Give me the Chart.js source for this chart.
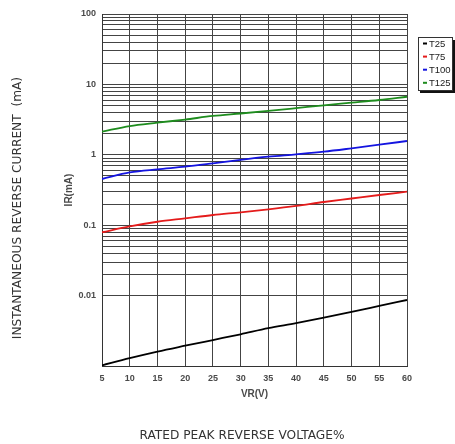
<!DOCTYPE html>
<html>
<head>
<meta charset="utf-8">
<script src="https://cdn.jsdelivr.net/npm/chart.js@4"></script>
<style>
  body { margin: 0; background: #fff; }
  #wrap { width: 455px; height: 444px; position: relative; }
</style>
</head>
<body>
<div id="wrap"><canvas id="chart"></canvas></div>
<script>
// Reverse voltage (V) along the bottom
const voltages = [5, 10, 15, 20, 25, 30, 35, 40, 45, 50, 55, 60];

// Reverse current (mA) per temperature
const t25  = [0.00102, 0.00129, 0.0016, 0.00194, 0.00234, 0.00282, 0.00344, 0.00405, 0.00485, 0.00585, 0.00712, 0.00867];
const t75  = [0.0793, 0.096, 0.112, 0.125, 0.1396, 0.1525, 0.168, 0.1875, 0.2136, 0.2395, 0.2685, 0.299];
const t100 = [0.453, 0.561, 0.622, 0.678, 0.757, 0.85, 0.94, 1.016, 1.107, 1.236, 1.39, 1.57];
const t125 = [2.13, 2.56, 2.86, 3.17, 3.56, 3.86, 4.2, 4.6, 5.05, 5.50, 6.0, 6.68];

const seriesNames = ['T25', 'T75', 'T100', 'T125'];
const seriesColors = ['#000000', '#e41b1b', '#1414e0', '#1e8c1e'];

// Axis ticks
const xTicks = [5, 10, 15, 20, 25, 30, 35, 40, 45, 50, 55, 60];
const yDecades = [0.001, 0.01, 0.1, 1, 10, 100];
const yMinorSteps = [2, 3, 4, 5, 6, 7, 8, 9];
const yTickLabels = ['0.01', '0.1', '1', '10', '100'];

const outerYTitle = 'INSTANTANEOUS REVERSE CURRENT  (mA)';
const outerXTitle = 'RATED PEAK REVERSE VOLTAGE%';

// grid values: every decade, plus 2..9 inside every decade but the lowest one
const yGrid = [];
yDecades.forEach((d, i) => {
  yGrid.push(d);
  if (i > 0 && i < yDecades.length - 1) {
    yMinorSteps.forEach(s => yGrid.push(d * s));
  }
});
yGrid.sort((a, b) => a - b);

const datasets = [t25, t75, t100, t125].map((vals, i) => ({
  label: seriesNames[i],
  data: vals.map((v, j) => ({ x: voltages[j], y: v })),
  borderColor: seriesColors[i],
  backgroundColor: seriesColors[i],
  borderWidth: 1.8,
  pointRadius: 0,
  cubicInterpolationMode: 'monotone',
  fill: false
}));

// small boxed legend with a drop shadow, plus the two outer titles
const extras = {
  id: 'extras',
  afterDraw(chart) {
    const ctx = chart.ctx;
    ctx.save();

    // legend box
    const bx = 418, by = 37, bw = 35, bh = 53;
    ctx.fillStyle = '#111';
    ctx.fillRect(bx + 2, by + 3, bw, bh);
    ctx.fillStyle = '#fff';
    ctx.fillRect(bx, by, bw, bh);
    ctx.strokeStyle = '#333';
    ctx.lineWidth = 1;
    ctx.strokeRect(bx + 0.5, by + 0.5, bw - 1, bh);

    ctx.font = '9.5px "Liberation Sans", Arial, sans-serif';
    ctx.textBaseline = 'middle';
    ctx.textAlign = 'left';
    chart.data.datasets.forEach((ds, i) => {
      const y = by + 6.5 + i * 13.1;
      ctx.fillStyle = ds.borderColor;
      ctx.fillRect(bx + 5, y - 1, 4, 2);
      ctx.fillStyle = '#222';
      ctx.fillText(ds.label, bx + 11, y + 0.5);
    });

    // outer axis titles
    ctx.fillStyle = '#333';
    ctx.font = '12.2px "DejaVu Sans", sans-serif';
    ctx.textAlign = 'center';
    ctx.fillText(outerXTitle, 242, 436);

    ctx.translate(18, 208);
    ctx.rotate(-Math.PI / 2);
    ctx.fillText(outerYTitle, 0, 0);
    ctx.restore();
  }
};

const tickFont = { family: '"Liberation Sans", Arial, sans-serif', size: 9, weight: 'bold' };

new Chart(document.getElementById('chart'), {
  type: 'line',
  data: { datasets },
  options: {
    responsive: true,
    maintainAspectRatio: false,
    animation: false,
    layout: { padding: { left: 60, right: 48, top: 14, bottom: 44 } },
    plugins: {
      legend: { display: false },
      tooltip: { enabled: false }
    },
    scales: {
      x: {
        type: 'linear',
        min: 5,
        max: 60,
        afterBuildTicks: (scale) => { scale.ticks = xTicks.map(v => ({ value: v })); },
        afterFit: (scale) => { scale.height = 34; },
        ticks: { autoSkip: false, maxRotation: 0, padding: 7, color: '#4a4a4a', font: tickFont },
        grid: { color: '#444', lineWidth: 1, drawTicks: false },
        border: { color: '#333', width: 1 },
        title: { display: true, text: 'VR(V)', color: '#4a4a4a', font: { ...tickFont, size: 10 }, padding: { top: 0, bottom: 0 } }
      },
      y: {
        type: 'logarithmic',
        min: 0.001,
        max: 100,
        afterBuildTicks: (scale) => { scale.ticks = yGrid.map(v => ({ value: v })); },
        afterFit: (scale) => { scale.width = 42; },
        ticks: {
          autoSkip: false,
          padding: 6,
          color: '#4a4a4a',
          font: tickFont,
          callback: (value) => {
            const s = String(value);
            return yTickLabels.includes(s) ? s : '';
          }
        },
        grid: { color: '#444', lineWidth: 1, drawTicks: false },
        border: { color: '#333', width: 1 },
        title: { display: true, text: 'IR(mA)', color: '#4a4a4a', font: { ...tickFont, size: 10 }, padding: { top: 3, bottom: 0 } }
      }
    }
  },
  plugins: [extras]
});
</script>
</body>
</html>
